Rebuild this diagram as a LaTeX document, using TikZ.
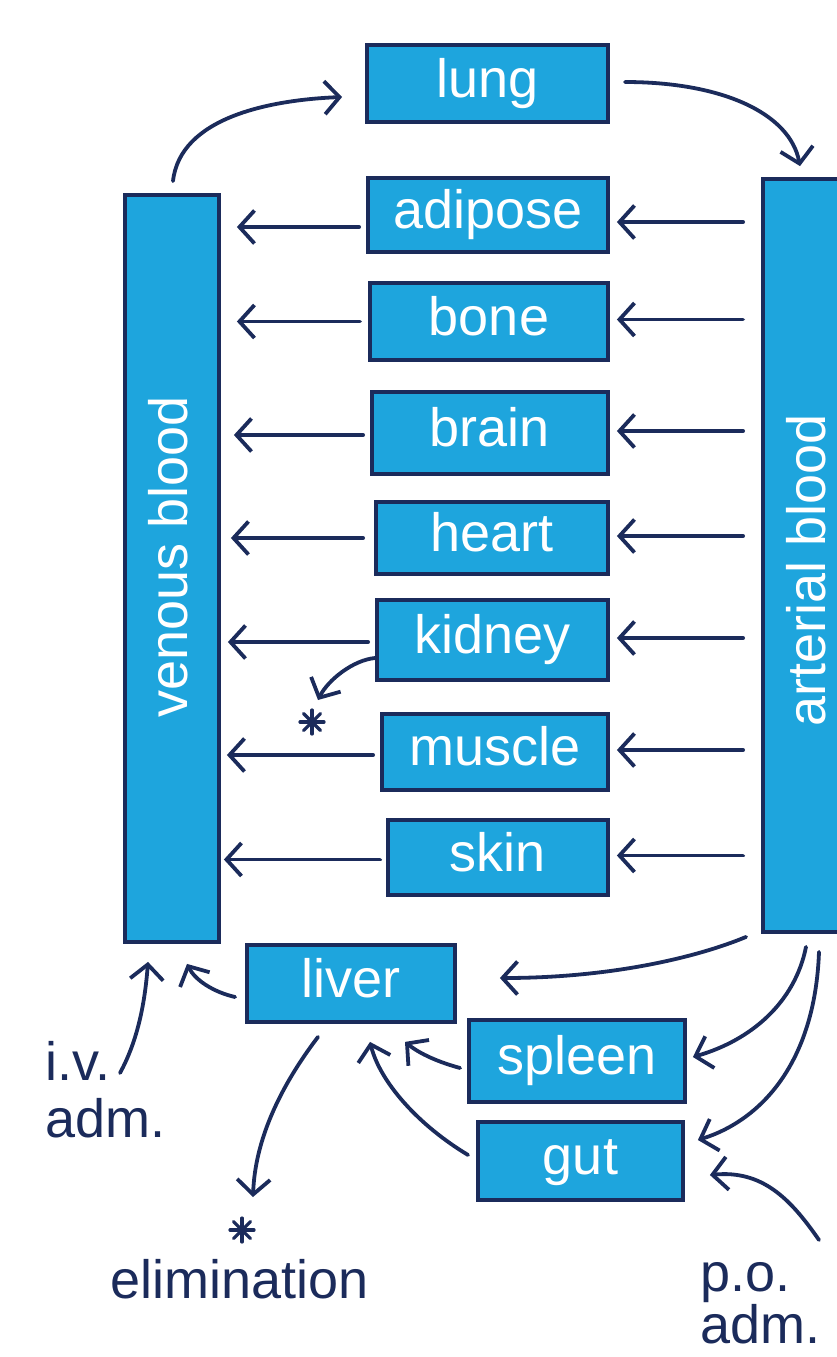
\documentclass[tikz,border=0pt]{standalone}
\usepackage{fontspec}
\setmainfont{Liberation Sans}
\usetikzlibrary{arrows.meta,calc}
\definecolor{organ}{HTML}{1EA5DD}
\definecolor{ink}{HTML}{1B2B5B}
\tikzset{
  organbox/.style={fill=organ, draw=ink, line width=3.8pt, text=white,
    font=\fontsize{54}{58}\selectfont, inner sep=0pt,
    text height=38pt, text depth=11pt},
  bartext/.style={text=white, font=\fontsize{54}{58}\selectfont, inner sep=0pt,
    text height=38pt, text depth=11pt, rotate=90},
  flow/.style={draw=ink, line width=3.8pt, line cap=round,
    -{Straight Barb[length=15pt,width=33pt]}},
  lbl/.style={text=ink, inner sep=0pt, align=left},
  spoke/.style={draw=ink, line width=3.2pt, line cap=round},
}
\begin{document}
\begin{tikzpicture}[x=1pt,y=-1pt]
\useasboundingbox (0,0) rectangle (836,1357);

% blood bars
\node[organbox, minimum width=94pt, minimum height=747pt] (ven) at (172,568.5) {};
\node[bartext] (ventext) at (174,557) {venous blood};
\node[organbox, minimum width=97pt, minimum height=753pt] (art) at (811.5,555.5) {};
\node[bartext, text depth=2pt] (arttext) at (807,570) {arterial blood};

% organs
\node[organbox, minimum width=241pt, minimum height=77pt] (lung) at (487.5,83.5) {lung};
\node[organbox, minimum width=240pt, minimum height=74pt] (adipose) at (488,215) {adipose};
\node[organbox, minimum width=238pt, minimum height=77pt] (bone) at (489,321.5) {bone};
\node[organbox, minimum width=236pt, minimum height=82pt] (brain) at (490,433) {brain};
\node[organbox, minimum width=232pt, minimum height=72pt] (heart) at (492,538) {heart};
\node[organbox, minimum width=231pt, minimum height=80pt] (kidney) at (492.5,640) {kidney};
\node[organbox, minimum width=226pt, minimum height=76pt] (muscle) at (495,752) {muscle};
\node[organbox, minimum width=220pt, minimum height=75pt] (skin) at (498,857.5) {skin};
\node[organbox, minimum width=208pt, minimum height=77pt] (liver) at (351,983.5) {liver};
\node[organbox, minimum width=216pt, minimum height=82pt] (spleen) at (577,1061) {spleen};
\node[organbox, minimum width=205pt, minimum height=78pt] (gut) at (580.5,1161) {gut};

% labels (base anchor = baseline of last line)
\node[lbl, anchor=base west, font=\fontsize{54}{57}\selectfont] (iv) at (45,1137) {i.v.\\adm.};
\node[lbl, anchor=base west, font=\fontsize{54}{50}\selectfont] (po) at (700,1343) {p.o.\\adm.};
\node[lbl, anchor=base, font=\fontsize{54}{57}\selectfont] (elim) at (240,1298) {elimination};

% asterisks
\coordinate (kstar) at (312,722);
\coordinate (estar) at (242,1230);
\foreach \c in {kstar,estar}{
  \foreach \a in {0,45,90,135}{
    \draw[spoke] ($(\c)+(\a:12)$) -- ($(\c)+(\a+180:12)$);
  }
  \fill[ink] (\c) circle (4pt);
}
\coordinate (ivstart) at (120,1073);
\coordinate (postart) at (819,1240);

% lung loop
\draw[flow] ($(ven.north)+(1,-12)$) .. controls +(7,-63) and +(-74,3) .. ($(lung.west)+(-23,13.5)$);
\draw[flow] ($(lung.east)+(15,-1.5)$) .. controls +(97,0) and +(-10,-53) .. ($(art.north)+(-11.5,-11)$);

% arterial -> organs
\draw[flow] ($(art.west|-adipose.east)+(-18,7)$) -- ($(adipose.east)+(7,7)$);
\foreach \o in {bone,brain,heart,kidney,muscle,skin}{
  \draw[flow] ($(art.west|-\o.east)+(-18,-2)$) -- ($(\o.east)+(7,-2)$);
}
% organs -> venous
\draw[flow] ($(adipose.west)+(-7,12)$) -- ($(ven.east|-adipose.west)+(16,12)$);
\draw[flow] ($(bone.west)+(-8,0)$) -- ($(ven.east|-bone.west)+(16,0)$);
\draw[flow] ($(brain.west)+(-7,2)$) -- ($(ven.east|-brain.west)+(13,2)$);
\draw[flow] ($(heart.west)+(-11,0)$) -- ($(ven.east|-heart.west)+(10,0)$);
\draw[flow] ($(kidney.west)+(-7,2)$) -- ($(ven.east|-kidney.west)+(7,2)$);
\draw[flow] ($(muscle.west)+(-7,3)$) -- ($(ven.east|-muscle.west)+(6,3)$);
\draw[flow] ($(skin.west)+(-6,2)$) -- ($(ven.east|-skin.west)+(3,2)$);

% kidney excretion
\draw[flow] ($(kidney.west)+(0,18)$) .. controls +(-22,2) and +(10,-20) .. ($(kstar)+(6,-22)$);

% splanchnic
\draw[flow] ($(art.south west)+(-15,3)$) .. controls +(-48,20) and +(112,0) .. ($(liver.east)+(43,-5.5)$);
\draw[flow] ($(art.south)+(-5.5,13)$) .. controls +(-11,55) and +(59,-17) .. ($(spleen.east)+(6,-4)$);
\draw[flow] ($(art.south)+(7.5,18)$) .. controls +(-4,110) and +(64,-20) .. ($(gut.east)+(13,-21)$);
\draw[flow] (postart) .. controls +(-29,-42) and +(52,-5) .. ($(gut.east)+(25,14)$);
\draw[flow] ($(spleen.west)+(-7,7)$) .. controls +(-22,-6) and +(15,12) .. ($(liver.south)+(54,18)$);
\draw[flow] ($(gut.west)+(-8,-6)$) .. controls +(-50,-30) and +(10,40) .. ($(liver.south)+(19,18)$);
\draw[flow] ($(liver.west)+(-10,13.5)$) .. controls +(-22,-5) and +(8,16) .. ($(ven.south)+(15,20)$);
\draw[flow] (ivstart) .. controls +(18,-33) and +(-3,40) .. ($(ven.south)+(-24,18)$);
\draw[flow] ($(liver.south)+(-33,13)$) .. controls +(-38,50) and +(2,-57) .. ($(estar)+(11,-33)$);
\end{tikzpicture}
\end{document}
